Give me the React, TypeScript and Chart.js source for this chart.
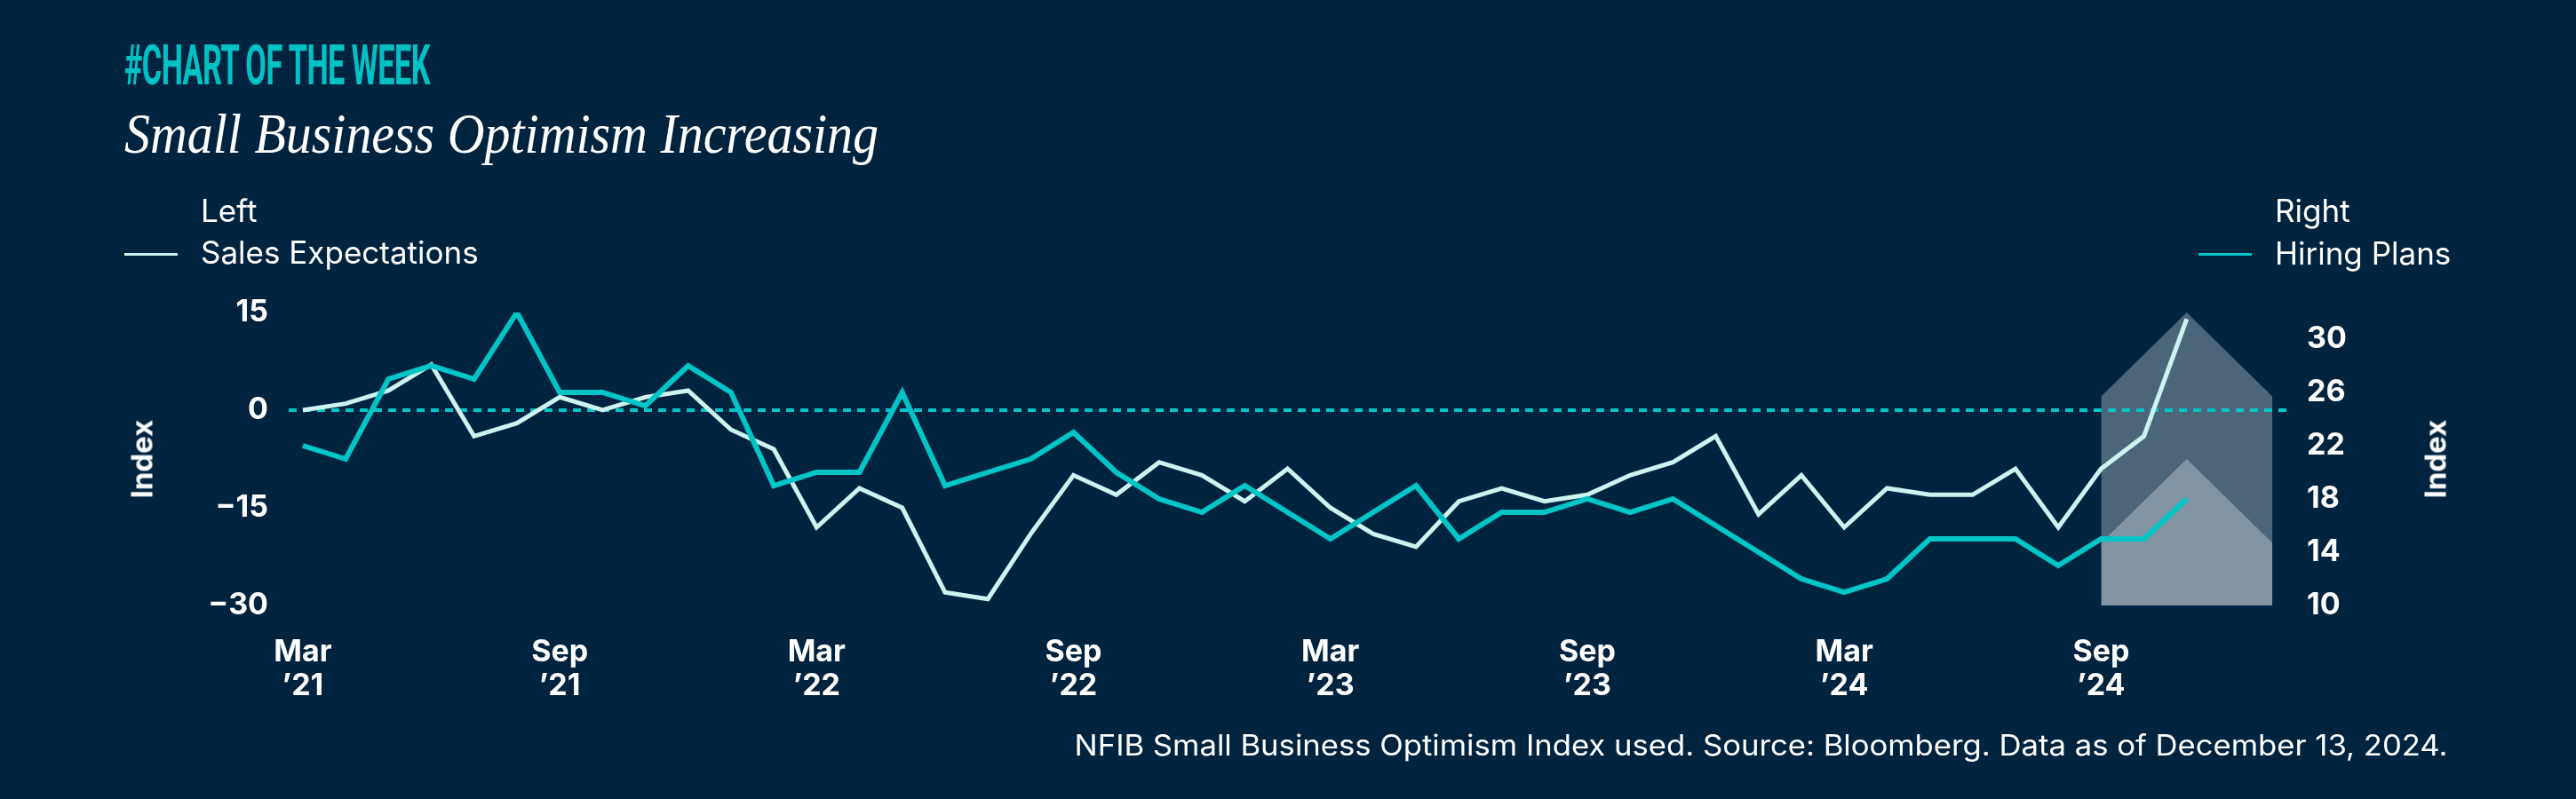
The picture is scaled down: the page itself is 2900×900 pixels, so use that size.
import React, { useEffect, useLayoutEffect, useRef } from 'react';
import { Chart, registerables } from 'chart.js';

Chart.register(...registerables);

// monthly NFIB readings, Mar 2021 .. Nov 2024
const months = [
  'Mar 21', 'Apr 21', 'May 21', 'Jun 21', 'Jul 21', 'Aug 21', 'Sep 21', 'Oct 21', 'Nov 21', 'Dec 21',
  'Jan 22', 'Feb 22', 'Mar 22', 'Apr 22', 'May 22', 'Jun 22', 'Jul 22', 'Aug 22', 'Sep 22', 'Oct 22',
  'Nov 22', 'Dec 22', 'Jan 23', 'Feb 23', 'Mar 23', 'Apr 23', 'May 23', 'Jun 23', 'Jul 23', 'Aug 23',
  'Sep 23', 'Oct 23', 'Nov 23', 'Dec 23', 'Jan 24', 'Feb 24', 'Mar 24', 'Apr 24', 'May 24', 'Jun 24',
  'Jul 24', 'Aug 24', 'Sep 24', 'Oct 24', 'Nov 24',
];

// left axis
const salesExpectations = [
  0, 1, 3, 7, -4, -2, 2, 0, 2, 3,
  -3, -6, -18, -12, -15, -28, -29, -19, -10, -13,
  -8, -10, -14, -9, -15, -19, -21, -14, -12, -14,
  -13, -10, -8, -4, -16, -10, -18, -12, -13, -13,
  -9, -18, -9, -4, 14,
];

// right axis
const hiringPlans = [
  22, 21, 27, 28, 27, 32, 26, 26, 25, 28,
  26, 19, 20, 20, 26, 19, 20, 21, 23, 20,
  18, 17, 19, 17, 15, 17, 19, 15, 17, 17,
  18, 17, 18, 16, 14, 12, 11, 12, 15, 15,
  15, 13, 15, 15, 18,
];

const tickIndex = [0, 6, 12, 18, 24, 30, 36, 42];
const tickMonths = ['Mar', 'Sep', 'Mar', 'Sep', 'Mar', 'Sep', 'Mar', 'Sep'];
const tickYears = ['’21', '’21', '’22', '’22', '’23', '’23', '’24', '’24'];

const leftTicks = [-30, -15, 0, 15];
const rightTicks = [10, 14, 18, 22, 26, 30];

// highlight arrows (x in month index, y on right axis)
const arrowX = [42, 42, 44, 46, 46];
const outerArrowY = [10, 25.7, 32, 25.7, 10];
const innerArrowY = [10, 14.7, 21, 14.7, 10];

const xMin = -0.33;
const xMax = 46.37;

const BG = '#00233F';
const TEAL = '#00C4C6';
const LIGHT = '#CDF3F0';
const FONT = 'Inter, Roboto, sans-serif';

// squeeze/stretch a single line of text to a given width
const FitText: React.FC<{ width: number; anchor?: 'left' | 'right'; style: React.CSSProperties; children: React.ReactNode }> = ({
  width,
  anchor = 'left',
  style,
  children,
}) => {
  const ref = useRef<HTMLDivElement>(null);
  useLayoutEffect(() => {
    const el = ref.current;
    if (!el) return;
    el.style.transform = 'none';
    const w = el.getBoundingClientRect().width;
    if (w > 0) el.style.transform = `scaleX(${width / w})`;
  });
  return (
    <div ref={ref} style={{ position: 'absolute', whiteSpace: 'nowrap', transformOrigin: `${anchor} top`, lineHeight: 1, ...style }}>
      {children}
    </div>
  );
};

const text = (extra: React.CSSProperties): React.CSSProperties => ({
  position: 'absolute',
  whiteSpace: 'nowrap',
  lineHeight: 1,
  color: '#FFFFFF',
  fontFamily: FONT,
  ...extra,
});

export default function App() {
  const canvasRef = useRef<HTMLCanvasElement>(null);

  useEffect(() => {
    document.body.style.margin = '0';
    const ctx = canvasRef.current?.getContext('2d');
    if (!ctx) return;

    const tickFont = { family: FONT, weight: 'bold' as const, size: 34, lineHeight: 1.12 };

    const chart = new Chart(ctx, {
      type: 'line',
      data: {
        datasets: [
          {
            label: 'Hiring Plans',
            data: hiringPlans.map((v, i) => ({ x: i, y: v })),
            yAxisID: 'y2',
            borderColor: TEAL,
            borderWidth: 6,
            pointRadius: 0,
            order: 0,
          },
          {
            label: 'Sales Expectations',
            data: salesExpectations.map((v, i) => ({ x: i, y: v })),
            yAxisID: 'y',
            borderColor: LIGHT,
            borderWidth: 5,
            pointRadius: 0,
            order: 1,
          },
          {
            label: 'zero',
            data: [{ x: xMin, y: 0 }, { x: xMax, y: 0 }],
            yAxisID: 'y',
            borderColor: TEAL,
            borderWidth: 4,
            borderDash: [9, 7],
            pointRadius: 0,
            order: 2,
          },
          {
            label: 'outer arrow',
            data: arrowX.map((x, i) => ({ x, y: outerArrowY[i] })),
            yAxisID: 'y2',
            fill: 'start',
            backgroundColor: 'rgba(255,255,255,0.3)',
            borderColor: 'rgba(0,0,0,0)',
            borderWidth: 1,
            pointRadius: 0,
            order: 3,
          },
          {
            label: 'inner arrow',
            data: arrowX.map((x, i) => ({ x, y: innerArrowY[i] })),
            yAxisID: 'y2',
            fill: 'start',
            backgroundColor: 'rgba(255,255,255,0.3)',
            borderColor: 'rgba(0,0,0,0)',
            borderWidth: 1,
            pointRadius: 0,
            order: 4,
          },
        ],
      },
      options: {
        animation: false,
        responsive: false,
        layout: { padding: { top: 352, left: 0, right: 0, bottom: 0 } },
        plugins: { legend: { display: false }, tooltip: { enabled: false } },
        scales: {
          x: {
            type: 'linear',
            min: xMin,
            max: xMax,
            grid: { display: false, drawTicks: false },
            border: { display: false },
            afterBuildTicks: (s: any) => {
              s.ticks = tickIndex.map((v) => ({ value: v }));
            },
            afterFit: (s: any) => {
              s.height = 218;
            },
            ticks: {
              color: '#FFFFFF',
              font: tickFont,
              padding: 34,
              maxRotation: 0,
              autoSkip: false,
              callback: (v: any) => {
                const k = tickIndex.indexOf(Number(v));
                return k >= 0 ? [tickMonths[k], tickYears[k]] : '';
              },
            },
          },
          y: {
            position: 'left',
            min: -30,
            max: 15,
            grid: { display: false, drawTicks: false },
            border: { display: false },
            afterBuildTicks: (s: any) => {
              s.ticks = leftTicks.map((v) => ({ value: v }));
            },
            afterFit: (s: any) => {
              s.width = 325;
            },
            ticks: {
              color: '#FFFFFF',
              font: tickFont,
              padding: 23,
              callback: (v: any) => (Number(v) < 0 ? '−' + Math.abs(Number(v)) : String(v)),
            },
          },
          y2: {
            position: 'right',
            min: 10,
            max: 32,
            grid: { display: false, drawTicks: false },
            border: { display: false },
            afterBuildTicks: (s: any) => {
              s.ticks = rightTicks.map((v) => ({ value: v }));
            },
            afterFit: (s: any) => {
              s.width = 324;
            },
            ticks: {
              color: '#FFFFFF',
              font: tickFont,
              padding: 21,
            },
          },
        },
      },
    });

    return () => chart.destroy();
  }, []);

  return (
    <div style={{ position: 'absolute', left: 0, top: 0, width: 2900, height: 900, background: BG, overflow: 'hidden' }}>
      <canvas ref={canvasRef} width={2900} height={900} style={{ position: 'absolute', left: 0, top: 0 }} />

      <FitText width={344} style={{ left: 140, top: 42, fontFamily: 'Roboto, sans-serif', fontWeight: 700, fontSize: 63, color: '#00C2C4', letterSpacing: -1 }}>
        #CHART OF THE WEEK
      </FitText>
      <FitText width={849} style={{ left: 140, top: 120, fontFamily: '"Liberation Serif", serif', fontStyle: 'italic', fontSize: 63, color: '#FFFFFF' }}>
        Small Business Optimism Increasing
      </FitText>

      {/* legend, left */}
      <div style={text({ left: 226, top: 220, fontSize: 35 })}>Left</div>
      <div style={{ position: 'absolute', left: 140, top: 285, width: 60, height: 3, background: LIGHT }} />
      <div style={text({ left: 226, top: 267, fontSize: 35 })}>Sales Expectations</div>

      {/* legend, right */}
      <div style={text({ left: 2561, top: 220, fontSize: 35 })}>Right</div>
      <div style={{ position: 'absolute', left: 2475, top: 285, width: 60, height: 3, background: TEAL }} />
      <div style={text({ left: 2561, top: 268, fontSize: 35 })}>Hiring Plans</div>

      {/* axis titles */}
      <div style={text({ left: 160, top: 517, fontSize: 33, fontWeight: 700, transform: 'translate(-50%, -50%) rotate(-90deg)' })}>Index</div>
      <div style={text({ left: 2742, top: 517, fontSize: 33, fontWeight: 700, transform: 'translate(-50%, -50%) rotate(-90deg)' })}>Index</div>

      <FitText width={1546} anchor="right" style={{ right: 144, top: 824, fontSize: 32, fontFamily: FONT, color: '#FFFFFF' }}>
        NFIB Small Business Optimism Index used. Source: Bloomberg. Data as of December 13, 2024.
      </FitText>
    </div>
  );
}
